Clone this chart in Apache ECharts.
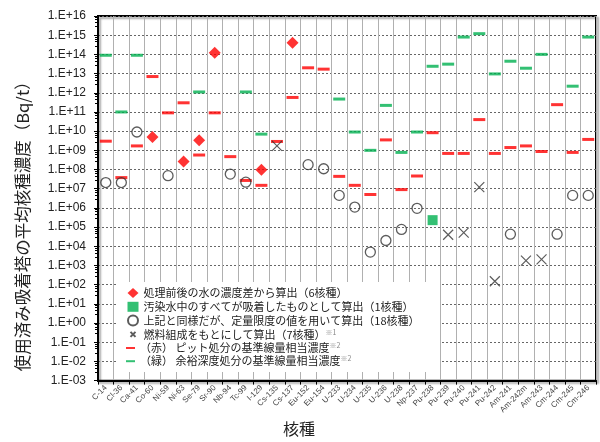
<!DOCTYPE html>
<html>
<head>
<meta charset="utf-8">
<script src="https://cdn.jsdelivr.net/npm/echarts@6/dist/echarts.min.js"></script>
<style>html,body{margin:0;padding:0;background:#fff;}#c{width:600px;height:442px;}</style>
</head>
<body>
<div id="c"></div>
<script>
const categories = ['C-14','Cl-36','Ca-41','Co-60','Ni-59','Ni-63','Se-79','Sr-90','Nb-94','Tc-99','I-129','Cs-135','Cs-137','Eu-152','Eu-154','U-233','U-234','U-235','U-236','U-238','Np-237','Pu-238','Pu-239','Pu-240','Pu-241','Pu-242','Am-241','Am-242m','Am-243','Cm-244','Cm-245','Cm-246'];

// (赤) ピット処分の基準線量相当濃度
const pitLimit = [3e9,3.8e7,1.7e9,7e12,9e10,3e11,5.7e8,9e10,4.7e8,2.7e7,1.5e7,2.9e9,5.7e11,2e13,1.7e13,4.4e7,1.5e7,5e6,3.5e9,9e6,4.6e7,8.3e9,6.9e8,6.9e8,4e10,6.9e8,1.4e9,1.7e9,8.7e8,2.4e11,7.8e8,3.7e9];
// (緑) 余裕深度処分の基準線量相当濃度
const deepLimit = [9e13,1e11,9e13,null,null,null,1.1e12,null,null,1.1e12,7e9,null,null,null,null,4.7e11,9e9,1e9,2.2e11,7.8e8,9e9,2.4e13,3.1e13,8e14,1.2e15,9.6e12,4.4e13,1.9e13,1e14,null,2.2e12,8e14];
// 処理前後の水の濃度差から算出
const diffValues = [null,null,null,5e9,null,2.6e8,3.4e9,1.2e14,null,null,9.6e7,null,4e14,null,null,null,null,null,null,null,null,null,null,null,null,null,null,null,null,null,null,null];
// 汚染水中のすべてが吸着したものとして算出
const allAdsorbed = [null,null,null,null,null,null,null,null,null,null,null,null,null,null,null,null,null,null,null,null,null,2.3e5,null,null,null,null,null,null,null,null,null,null];
// 定量限度の値を用いて算出
const detectLimit = [2.1e7,2.1e7,9e9,null,4.8e7,null,null,null,5.8e7,2.2e7,null,null,null,1.8e8,1.1e8,4.5e6,1.1e6,5e3,2e4,7.6e4,9.5e5,null,null,null,null,null,4.3e4,null,null,4.3e4,4.5e6,4.5e6];
// 燃料組成をもとにして算出
const fuelBased = [null,null,null,null,null,null,null,null,null,null,null,1.7e9,null,null,null,null,null,null,null,null,null,null,4e4,5.2e4,1.2e7,1.5e2,null,1.8e3,2.1e3,null,null,null];

const N1 = '処理前後の水の濃度差から算出（6核種）';
const N2 = '汚染水中のすべてが吸着したものとして算出（1核種）';
const N3 = '上記と同様だが、定量限度の値を用いて算出（18核種）';
const N4 = '燃料組成をもとにして算出（7核種）';
const N5 = '（赤） ピット処分の基準線量相当濃度';
const N6 = '（緑） 余裕深度処分の基準線量相当濃度';

const fix = a => a.map(v => v == null ? '-' : v);
const cjk = '"Noto Sans CJK JP", sans-serif';

function fmtY(v) {
  const e = Math.round(Math.log10(v));
  const s = e < 0 ? '-' : '+';
  const a = Math.abs(e);
  return '1.E' + s + (a < 10 ? '0' + a : '' + a);
}

const chart = echarts.init(document.getElementById('c'), null, {renderer: 'canvas'});
const legendText = {
  color: '#222', fontFamily: cjk, fontSize: 11, lineHeight: 12,
  rich: {
    t: {fontFamily: cjk, fontSize: 11, color: '#222', lineHeight: 12},
    s: {fontFamily: cjk, fontSize: 7, color: '#888', lineHeight: 12, verticalAlign: 'top'}
  }
};
chart.setOption({
  animation: false,
  backgroundColor: '#fff',
  grid: {left: 98, right: 4, top: 16, bottom: 50, show: true, borderColor: '#000', borderWidth: 2,
    shadowColor: 'rgba(0,0,0,0.35)', shadowBlur: 2, shadowOffsetX: 2, shadowOffsetY: 2},
  xAxis: {
    type: 'category', data: categories, boundaryGap: true,
    name: '核種', nameLocation: 'middle', nameGap: 32,
    nameTextStyle: {fontFamily: cjk, fontSize: 16, color: '#222', padding: [0, 96, 0, 0]},
    axisLine: {lineStyle: {color: '#000', width: 2}},
    axisTick: {show: true, length: 4, lineStyle: {color: '#000'}},
    axisLabel: {rotate: 45, fontSize: 8, color: '#444', fontFamily: 'Liberation Sans', margin: 6, interval: 0},
    splitLine: {show: true, interval: 0, lineStyle: {color: '#b0b0b0', width: 1}}
  },
  yAxis: {
    type: 'log', logBase: 10, min: 1e-3, max: 1e16, interval: 1,
    name: '使用済み吸着塔の平均核種濃度（Bq/t）', nameLocation: 'middle', nameGap: 67, nameRotate: 90,
    nameTextStyle: {fontFamily: cjk, fontSize: 16.5, color: '#222', padding: [0, 48, 0, 0]},
    axisLine: {show: true, lineStyle: {color: '#000', width: 2}},
    axisTick: {show: true, length: 4, lineStyle: {color: '#000'}},
    minorTick: {show: true, splitNumber: 5, length: 3, lineStyle: {color: '#000'}},
    axisLabel: {formatter: fmtY, fontFamily: 'Liberation Sans', fontSize: 12, color: '#222', margin: 12},
    splitLine: {show: true, lineStyle: {color: '#666', width: 1, type: [2, 2]}}
  },
  legend: [
    {
      orient: 'vertical', left: 122, top: 282, itemWidth: 11, itemHeight: 10, itemGap: 1.8,
      selectedMode: false, z: 10,
      data: [N1, N2, N3, {name: N4, icon: 'path://M0,0M10,10M2.5,2.5L7.5,7.5M7.5,2.5L2.5,7.5'}],
      textStyle: legendText,
      formatter: n => n === N4 ? '{t|' + n + '}{s|※1}' : '{t|' + n + '}'
    },
    {
      orient: 'vertical', left: 121, top: 337, itemWidth: 9, itemHeight: 2, itemGap: 1.2,
      selectedMode: false, z: 10,
      data: [{name: N5, icon: 'rect'}, {name: N6, icon: 'rect'}],
      textStyle: legendText,
      formatter: n => '{t|' + n + '}{s|※2}'
    }
  ],
  graphic: [{
    type: 'rect', z: 5, shape: {x: 118, y: 282, width: 322, height: 90},
    style: {fill: '#fff'}, silent: true
  }],
  series: [
    {name: N5, type: 'scatter', data: fix(pitLimit), symbol: 'rect', symbolSize: [12, 3],
      itemStyle: {color: '#ff0000'}, z: 3},
    {name: N6, type: 'scatter', data: fix(deepLimit), symbol: 'rect', symbolSize: [12, 3],
      itemStyle: {color: '#00b050'}, z: 3},
    {name: N3, type: 'scatter', data: fix(detectLimit), symbol: 'circle', symbolSize: 10,
      itemStyle: {color: 'rgba(0,0,0,0)', borderColor: '#333', borderWidth: 1.3}, z: 4},
    {name: N4, type: 'scatter', data: fix(fuelBased), symbol: 'path://M0,0L10,10M10,0L0,10', symbolSize: 10,
      itemStyle: {color: 'rgba(0,0,0,0)', borderColor: '#333', borderWidth: 1.2}, z: 4},
    {name: N1, type: 'scatter', data: fix(diffValues), symbol: 'diamond', symbolSize: 12,
      itemStyle: {color: '#ff0000'}, z: 5},
    {name: N2, type: 'scatter', data: fix(allAdsorbed), symbol: 'rect', symbolSize: 10,
      itemStyle: {color: '#00b050'}, z: 5}
  ]
});
</script>
</body>
</html>
